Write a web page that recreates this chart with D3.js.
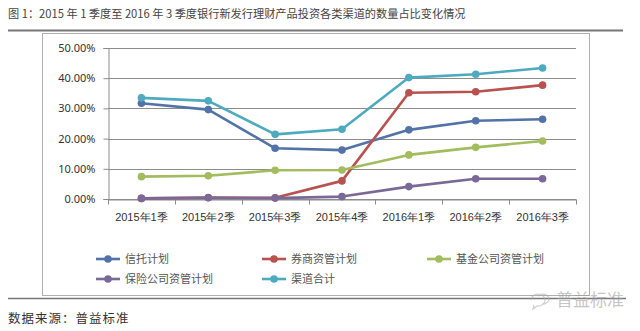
<!DOCTYPE html>
<html>
<head>
<meta charset="utf-8">
<script src="https://cdn.jsdelivr.net/npm/d3@7/dist/d3.min.js"></script>
<style>
  html, body { margin: 0; padding: 0; background: #fff; }
  svg { display: block; font-family: "Noto Sans CJK SC", "Noto Sans", sans-serif; }
</style>
</head>
<body>
<svg id="chart" width="640" height="331"></svg>
<script>
// Quarters on the x axis
const categories = ["2015年1季", "2015年2季", "2015年3季", "2015年4季", "2016年1季", "2016年2季", "2016年3季"];

// Share of newly issued bank wealth products by investment channel (%)
const trustPlans     = [31.7, 29.6, 16.8, 16.2, 22.9, 25.9, 26.4];
const brokerPlans    = [0.2, 0.5, 0.4, 6.0, 35.2, 35.5, 37.7];
const fundPlans      = [7.4, 7.7, 9.5, 9.6, 14.6, 17.1, 19.2];
const insurerPlans   = [0.2, 0.4, 0.3, 0.8, 4.1, 6.7, 6.7];
const channelTotal   = [33.5, 32.5, 21.4, 23.1, 40.2, 41.3, 43.4];

const seriesNames = ["信托计划", "券商资管计划", "基金公司资管计划", "保险公司资管计划", "渠道合计"];
const seriesColors = ["#5273a8", "#b9524f", "#a2bc5e", "#7a6899", "#4eaabf"];
const seriesValues = [trustPlans, brokerPlans, fundPlans, insurerPlans, channelTotal];

const yTicks = [0, 10, 20, 30, 40, 50];

const svg = d3.select("#chart");

// Heading and its rule
svg.append("text")
  .attr("x", 8).attr("y", 18)
  .attr("font-size", 11.2).attr("fill", "#444")
  .text("图 1：2015 年 1 季度至 2016 年 3 季度银行新发行理财产品投资各类渠道的数量占比变化情况");
svg.append("line")
  .attr("x1", 8).attr("x2", 623).attr("y1", 30.5).attr("y2", 30.5)
  .attr("stroke", "#777").attr("stroke-width", 2);

// Chart frame
svg.append("rect")
  .attr("x", 42.5).attr("y", 33.5).attr("width", 547).attr("height", 262)
  .attr("fill", "#fff").attr("stroke", "#b0b0b0").attr("stroke-width", 1);

const plot = { left: 108, right: 576, top: 48, bottom: 199 };

const x = d3.scaleBand().domain(categories).range([plot.left, plot.right]);
const y = d3.scaleLinear().domain([0, 50]).range([plot.bottom, plot.top]);

// Horizontal gridlines
svg.append("g")
  .selectAll("line")
  .data(yTicks)
  .join("line")
  .attr("x1", plot.left).attr("x2", plot.right)
  .attr("y1", d => Math.round(y(d)) + 0.5).attr("y2", d => Math.round(y(d)) + 0.5)
  .attr("stroke", "#8c8c8c").attr("stroke-width", 1);

// Y axis
const yAxis = svg.append("g")
  .attr("transform", `translate(${plot.left + 0.5},0)`)
  .call(d3.axisLeft(y).tickValues(yTicks).tickSize(5).tickPadding(8)
    .tickFormat(d => d.toFixed(2) + "%"));
yAxis.select(".domain").attr("stroke", "#8c8c8c");
yAxis.selectAll(".tick line").attr("stroke", "#8c8c8c");
yAxis.selectAll(".tick text")
  .attr("font-size", 11).attr("fill", "#333")
  .attr("font-family", "'Noto Sans', sans-serif");

// X axis: ticks between categories
const xAxis = svg.append("g")
  .attr("transform", `translate(0,${Math.round(y(0)) + 0.5})`)
  .call(d3.axisBottom(x).tickSize(0).tickPadding(14));
xAxis.select(".domain").attr("stroke", "#8c8c8c");
xAxis.selectAll(".tick text")
  .attr("font-size", 11).attr("fill", "#333");
xAxis.append("g")
  .selectAll("line")
  .data(categories.concat([null]))
  .join("line")
  .attr("x1", (d, i) => Math.round(plot.left + i * x.step()) + 0.5)
  .attr("x2", (d, i) => Math.round(plot.left + i * x.step()) + 0.5)
  .attr("y1", 0).attr("y2", 5)
  .attr("stroke", "#8c8c8c");

// Series lines and markers
const line = d3.line()
  .x((d, i) => x(categories[i]) + x.bandwidth() / 2)
  .y(d => y(d));

seriesValues.forEach((vals, s) => {
  const g = svg.append("g");
  g.append("path")
    .datum(vals)
    .attr("d", line)
    .attr("fill", "none")
    .attr("stroke", seriesColors[s])
    .attr("stroke-width", 2.6)
    .attr("stroke-linejoin", "round");
  g.selectAll("circle")
    .data(vals)
    .join("circle")
    .attr("cx", (d, i) => x(categories[i]) + x.bandwidth() / 2)
    .attr("cy", d => y(d))
    .attr("r", 3.8)
    .attr("fill", seriesColors[s]);
});

// Legend
const legendPos = [[96, 259], [262, 259], [427, 259], [96, 279], [262, 279]];
const legend = svg.append("g");
seriesNames.forEach((name, i) => {
  const [lx, ly] = legendPos[i];
  const item = legend.append("g").attr("transform", `translate(${lx},${ly})`);
  item.append("line")
    .attr("x1", 0).attr("x2", 24).attr("y1", 0).attr("y2", 0)
    .attr("stroke", seriesColors[i]).attr("stroke-width", 2.6);
  item.append("circle")
    .attr("cx", 12).attr("cy", 0).attr("r", 3.8)
    .attr("fill", seriesColors[i]);
  item.append("text")
    .attr("x", 29).attr("y", 4)
    .attr("font-size", 11).attr("fill", "#555")
    .text(name);
});

// Bottom rule and source note
svg.append("line")
  .attr("x1", 8).attr("x2", 626).attr("y1", 298.5).attr("y2", 298.5)
  .attr("stroke", "#777").attr("stroke-width", 1.5);
svg.append("text")
  .attr("x", 8).attr("y", 323)
  .attr("font-size", 12.5).attr("letter-spacing", 1).attr("fill", "#333")
  .text("数据来源：普益标准");

// Account mark
const mark = svg.append("g").attr("opacity", 0.55);
mark.append("path")
  .attr("d", "M531,300 a7,6 0 1 1 6,6 l-4,3 l1,-4")
  .attr("fill", "none").attr("stroke", "#aaa").attr("stroke-width", 1.2);
mark.append("path")
  .attr("d", "M538,296 a6,5 0 1 1 4,8")
  .attr("fill", "none").attr("stroke", "#aaa").attr("stroke-width", 1.2);
mark.append("text")
  .attr("x", 556).attr("y", 306)
  .attr("font-size", 17).attr("fill", "#999")
  .text("普益标准");
</script>
</body>
</html>
